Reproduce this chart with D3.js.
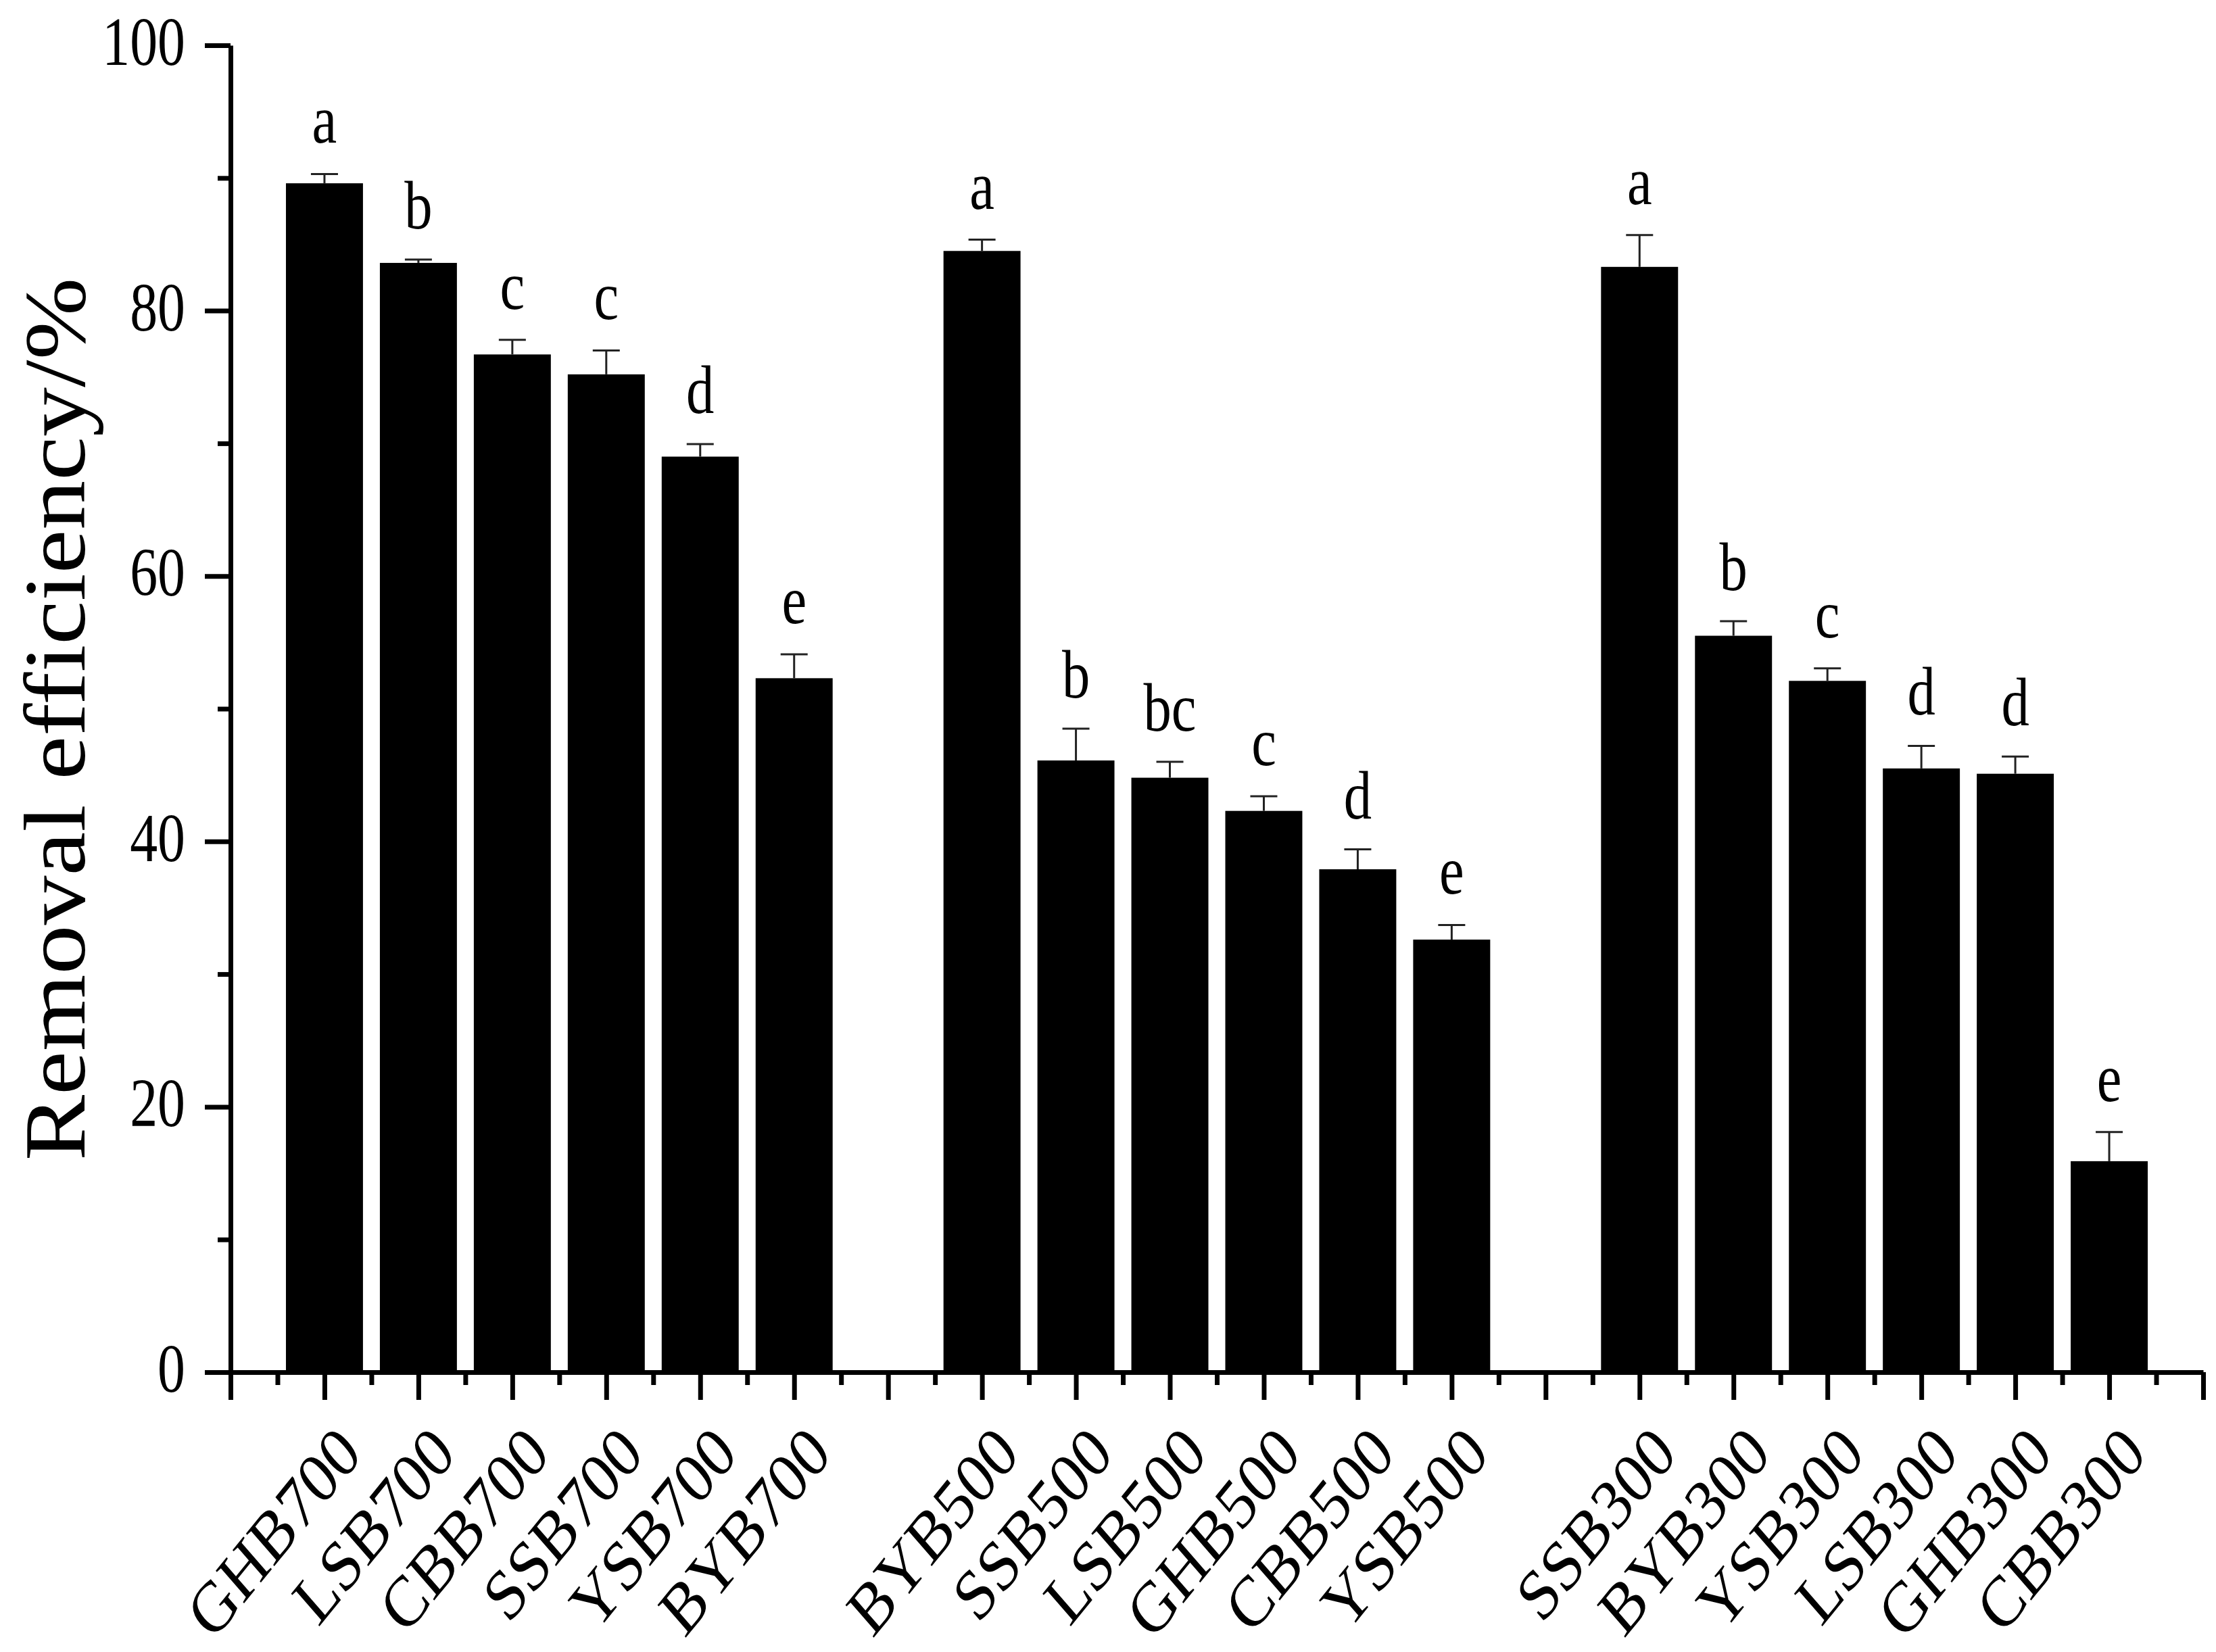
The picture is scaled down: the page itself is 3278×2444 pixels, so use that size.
<!DOCTYPE html>
<html>
<head>
<meta charset="utf-8">
<script src="https://cdn.jsdelivr.net/npm/d3@7"></script>
<style>
  html, body { margin: 0; padding: 0; background: #fff; }
  svg { display: block; }
  text { font-family: "Liberation Serif", "Times New Roman", serif; fill: #000; }
</style>
</head>
<body>
<svg id="chart" width="3278" height="2444"></svg>
<script>
// ---- data ----
const groups = ["700", "500", "300"];
const categories700 = ["GHB700", "LSB700", "CBB700", "SSB700", "YSB700", "BYB700"];
const categories500 = ["BYB500", "SSB500", "LSB500", "GHB500", "CBB500", "YSB500"];
const categories300 = ["SSB300", "BYB300", "YSB300", "LSB300", "GHB300", "CBB300"];
const values700 = [89.6, 83.6, 76.7, 75.2, 69.0, 52.3];
const values500 = [84.5, 46.1, 44.8, 42.3, 37.9, 32.6];
const values300 = [83.3, 55.5, 52.1, 45.5, 45.1, 15.9];
const errors700 = [0.7, 0.25, 1.1, 1.8, 0.95, 1.8];
const errors500 = [0.85, 2.4, 1.2, 1.1, 1.5, 1.1];
const errors300 = [2.4, 1.1, 0.95, 1.7, 1.3, 2.2];
const letters700 = ["a", "b", "c", "c", "d", "e"];
const letters500 = ["a", "b", "bc", "c", "d", "e"];
const letters300 = ["a", "b", "c", "d", "d", "e"];
const yTicks = [0, 20, 40, 60, 80, 100];
const yMinorTicks = [10, 30, 50, 70, 90];
const yTitle = "Removal efficiency/%";

// ---- build rows ----
const cats = [categories700, categories500, categories300];
const vals = [values700, values500, values300];
const errs = [errors700, errors500, errors300];
const lets = [letters700, letters500, letters300];
const rows = [];
cats.forEach((cs, g) => cs.forEach((c, i) => rows.push({
  name: c, value: vals[g][i], err: errs[g][i], letter: lets[g][i],
  pos: 1 + g * (cs.length + 1) + i
})));
const nSlots = rows[rows.length - 1].pos + 1;

// ---- layout ----
const svg = d3.select("#chart");
svg.append("rect").attr("width", 3278).attr("height", 2444).attr("fill", "#fff");
const x = d3.scaleLinear().domain([0, nSlots]).range([341, 3259]);
const y = d3.scaleLinear().domain([0, 100]).range([2030, 67]);
const pitch = x(1) - x(0);
const barW = pitch * 0.82;
const sx = 0.81;   // horizontal squeeze of glyphs in reference
const axisW = 7;

// bars
svg.append("g").selectAll("rect").data(rows).join("rect")
  .attr("x", d => x(d.pos) - barW / 2)
  .attr("y", d => y(d.value))
  .attr("width", barW)
  .attr("height", d => y(0) - y(d.value))
  .attr("fill", "#000");

// error bars (upper only)
const eb = svg.append("g").attr("stroke", "#222").attr("stroke-width", 3).attr("fill", "none");
eb.selectAll("line.stem").data(rows).join("line").attr("class", "stem")
  .attr("x1", d => x(d.pos)).attr("x2", d => x(d.pos))
  .attr("y1", d => y(d.value)).attr("y2", d => y(d.value + d.err));
eb.selectAll("line.cap").data(rows).join("line").attr("class", "cap")
  .attr("x1", d => x(d.pos) - 20).attr("x2", d => x(d.pos) + 20)
  .attr("y1", d => y(d.value + d.err)).attr("y2", d => y(d.value + d.err));

// significance letters
svg.append("g").selectAll("text").data(rows).join("text")
  .attr("transform", d => `translate(${x(d.pos)},${y(d.value + d.err) - 46}) scale(${sx},1)`)
  .attr("text-anchor", "middle")
  .attr("font-size", 102)
  .text(d => d.letter);

// y axis
const yAxisG = svg.append("g").attr("transform", `translate(${x(0)},0)`);
yAxisG.call(d3.axisLeft(y).tickValues(yTicks).tickSize(38).tickSizeOuter(0).tickFormat(""));
const yMinorG = svg.append("g").attr("transform", `translate(${x(0)},0)`);
yMinorG.call(d3.axisLeft(y).tickValues(yMinorTicks).tickSize(19).tickSizeOuter(0).tickFormat(""));
yMinorG.select(".domain").remove();
[yAxisG, yMinorG].forEach(g => {
  g.selectAll("path, line").attr("stroke", "#000").attr("stroke-width", axisW);
});
svg.append("g").selectAll("text").data(yTicks).join("text")
  .attr("transform", d => `translate(274,${y(d) + 29}) scale(${sx},1)`)
  .attr("text-anchor", "end")
  .attr("font-size", 101)
  .text(d => d);

// x axis
const majorPos = d3.range(0, nSlots + 1);
const minorPos = d3.range(0, nSlots).map(v => v + 0.5);
const xAxisG = svg.append("g").attr("transform", `translate(0,${y(0)})`);
xAxisG.call(d3.axisBottom(x).tickValues(majorPos).tickSize(41).tickSizeOuter(0).tickFormat(""));
const xMinorG = svg.append("g").attr("transform", `translate(0,${y(0)})`);
xMinorG.call(d3.axisBottom(x).tickValues(minorPos).tickSize(19).tickSizeOuter(0).tickFormat(""));
xMinorG.select(".domain").remove();
[xAxisG, xMinorG].forEach(g => {
  g.selectAll("path, line").attr("stroke", "#000").attr("stroke-width", axisW);
});

// x category labels (rotated)
svg.append("g").selectAll("text").data(rows).join("text")
  .attr("transform", d => `translate(${x(d.pos) + 58},${y(0) + 124}) scale(0.84,1) rotate(-46)`)
  .attr("text-anchor", "end")
  .attr("font-size", 106)
  .text(d => d.name);

// y title
svg.append("text")
  .attr("transform", `translate(125,1064) rotate(-90) scale(1,0.88)`)
  .attr("text-anchor", "middle")
  .attr("font-size", 146)
  .text(yTitle);
</script>
</body>
</html>
